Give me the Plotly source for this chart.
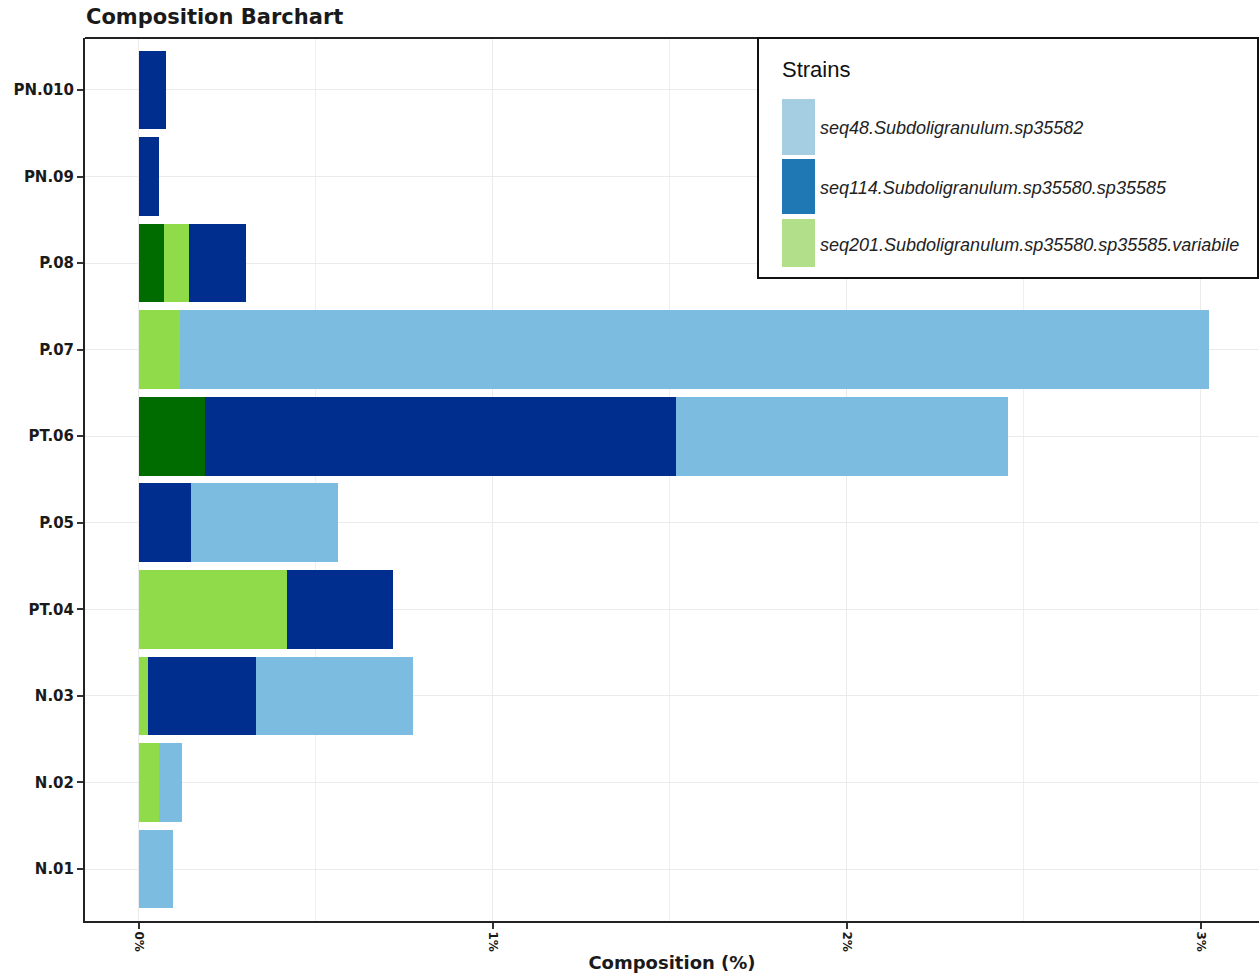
import plotly.graph_objects as go

# ---------------- data ----------------
samples = ["N.01", "N.02", "N.03", "PT.04", "P.05", "PT.06", "P.07", "P.08", "PN.09", "PN.010"]

# composition (%) per strain, stacked left -> right in this order
other_dark_green = [0, 0, 0, 0, 0, 0.186, 0, 0.071, 0, 0]
seq201_variabile = [0, 0.056, 0.025, 0.418, 0, 0, 0.116, 0.071, 0, 0]
seq114_sp35580 = [0, 0, 0.305, 0.299, 0.147, 1.331, 0, 0.161, 0.056, 0.076]
seq48_sp35582 = [0.096, 0.065, 0.444, 0, 0.415, 0.938, 2.907, 0, 0, 0]

series_names = [
    "other",
    "seq201.Subdoligranulum.sp35580.sp35585.variabile",
    "seq114.Subdoligranulum.sp35580.sp35585",
    "seq48.Subdoligranulum.sp35582",
]
series_values = [other_dark_green, seq201_variabile, seq114_sp35580, seq48_sp35582]
bar_colors = ["#006C00", "#8FDB4A", "#002E8F", "#7BBCE0"]

legend_names = [
    "seq48.Subdoligranulum.sp35582",
    "seq114.Subdoligranulum.sp35580.sp35585",
    "seq201.Subdoligranulum.sp35580.sp35585.variabile",
]
legend_colors = ["#A6CEE3", "#1F78B4", "#B2DF8A"]

x_tick_vals = [0, 1, 2, 3]
x_tick_text = ["0%", "1%", "2%", "3%"]

# ---------------- figure ----------------
W, H = 1259, 977
ML, MR, MT, MB = 85, 0, 38, 56
PW, PH = W - ML - MR, H - MT - MB

fig = go.Figure()
for name, vals, col in zip(series_names, series_values, bar_colors):
    fig.add_trace(go.Bar(
        y=samples, x=vals, name=name, orientation="h",
        marker=dict(color=col, line=dict(width=0)),
        showlegend=False,
    ))

TICKFONT = dict(family="DejaVu Sans", size=15, color="#1a1a1a", weight="bold")
LEGFONT = "Liberation Sans Narrow, Arial Narrow, Liberation Sans, Arial"

fig.update_layout(
    width=W, height=H,
    margin=dict(l=ML, r=MR, t=MT, b=MB, pad=0),
    barmode="stack",
    bargap=0.09,
    plot_bgcolor="white",
    paper_bgcolor="white",
    showlegend=False,
    title=dict(
        text="Composition Barchart",
        x=86 / W, xanchor="left", y=1 - 17 / H, yanchor="middle",
        font=dict(family="DejaVu Sans", size=21, color="#1a1a1a", weight="bold"),
    ),
    xaxis=dict(
        range=[-0.1525, 3.164],
        tickvals=x_tick_vals, ticktext=x_tick_text,
        tickangle=90,
        tickfont=dict(family="DejaVu Sans", size=12, color="#1a1a1a", weight="bold"),
        ticks="outside", ticklen=6, tickwidth=2, tickcolor="#333333",
        showline=True, linecolor="#222222", linewidth=2, mirror=False,
        showgrid=True, gridcolor="#EBEBEB", gridwidth=1.3,
        minor=dict(dtick=0.5, showgrid=True, gridcolor="#EFEFEF", gridwidth=1, ticks=""),
        zeroline=False,
        title=dict(text="Composition (%)", standoff=6,
                   font=dict(family="DejaVu Sans", size=18, color="#1a1a1a", weight="bold")),
    ),
    yaxis=dict(
        range=[-0.6, 9.6],
        categoryorder="array", categoryarray=samples,
        tickfont=TICKFONT,
        ticks="outside", ticklen=6, tickwidth=2, tickcolor="#333333",
        showline=True, linecolor="#222222", linewidth=2, mirror=False,
        showgrid=True, gridcolor="#EBEBEB", gridwidth=1.3,
        zeroline=False,
    ),
)

# top panel border
fig.add_shape(type="line", xref="paper", yref="paper", x0=0, x1=1, y0=1, y1=1,
              line=dict(color="#222222", width=2))


def px_x(px):
    return (px - ML) / PW


def px_y(py):
    return (H - MB - py) / PH


# ---------------- legend (drawn manually to match large key boxes) ----------------
fig.add_shape(type="rect", xref="paper", yref="paper",
              x0=px_x(758), x1=px_x(1258), y0=px_y(278), y1=px_y(38),
              line=dict(color="#111111", width=2), fillcolor="white", layer="above")
fig.add_annotation(xref="paper", yref="paper", x=px_x(780), y=px_y(70),
                   xanchor="left", yanchor="middle", showarrow=False, text="Strains",
                   font=dict(family=LEGFONT, size=22, color="#111111"))
swatch_tops = [99, 159, 219]
swatch_bots = [155, 214, 267]
text_centers = [128, 188, 245]
for name, col, t, b, c in zip(legend_names, legend_colors, swatch_tops, swatch_bots, text_centers):
    fig.add_shape(type="rect", xref="paper", yref="paper",
                  x0=px_x(782), x1=px_x(815), y0=px_y(b), y1=px_y(t),
                  line=dict(width=0), fillcolor=col, layer="above")
    fig.add_annotation(xref="paper", yref="paper", x=px_x(818), y=px_y(c),
                       xanchor="left", yanchor="middle", showarrow=False, text=name,
                       font=dict(family=LEGFONT, size=18, color="#222222", style="italic"))

fig.write_html("out.html", config={"displayModeBar": False},
               post_script="document.body.style.margin='0';document.body.style.overflow='hidden';")
